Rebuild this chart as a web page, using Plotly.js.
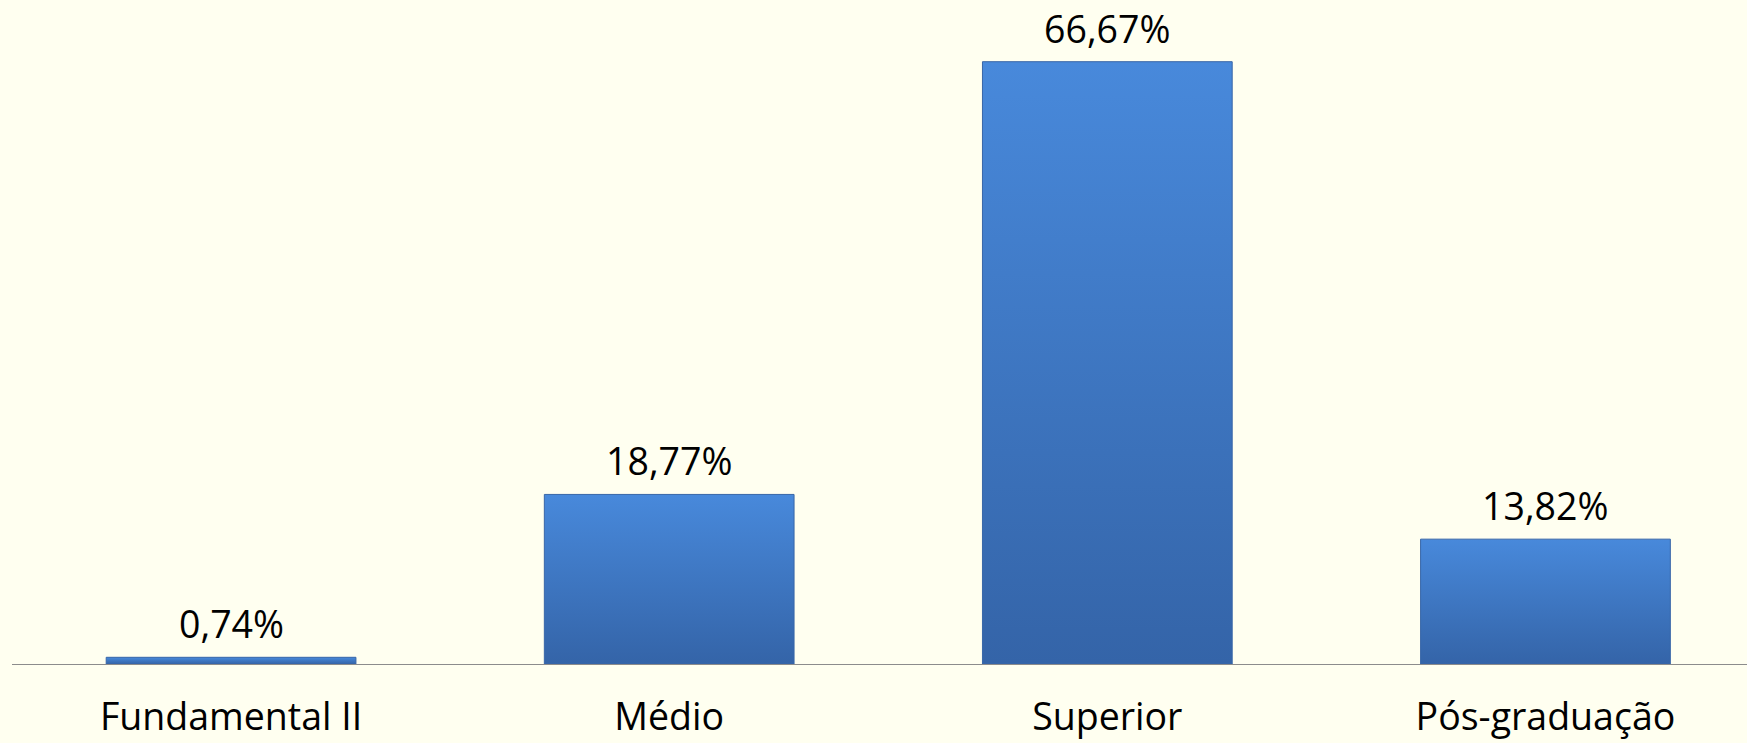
<!DOCTYPE html>
<html>
<head>
<meta charset="utf-8">
<script src="https://cdn.plot.ly/plotly-3.0.1.min.js"></script>
<style>
html,body{margin:0;padding:0;background:#FFFFF0;}
#chart{width:1747px;height:743px;}
</style>
</head>
<body>
<div id="chart"></div>
<script>
const categories = ["Fundamental II", "Médio", "Superior", "Pós-graduação"];
const values = [0.74, 18.77, 66.67, 13.82];
const valueLabels = ["0,74%", "18,77%", "66,67%", "13,82%"];

const fontFamily = "'Open Sans', 'Noto Sans', sans-serif";

const trace = {
  type: "bar",
  x: categories,
  y: values,
  marker: {color: "#3F78C4", line: {color: "#3866A8", width: 1}},
  hoverinfo: "none"
};

const annotations = categories.map((c, i) => ({
  x: c, y: values[i], text: valueLabels[i],
  xref: "x", yref: "y", showarrow: false,
  yanchor: "bottom", yshift: 6,
  font: {family: fontFamily, size: 37.5, color: "#000000"}
}));

const layout = {
  width: 1747, height: 743,
  paper_bgcolor: "#FFFFF0", plot_bgcolor: "#FFFFF0",
  margin: {l: 12, r: 0, t: 0, b: 79},
  bargap: 0.43,
  showlegend: false,
  xaxis: {
    type: "category",
    range: [-0.5, 3.46],
    showgrid: false, zeroline: false,
    showline: true, linecolor: "#8C8C8C", linewidth: 1,
    ticks: "outside", ticklen: 20, tickcolor: "rgba(0,0,0,0)",
    tickfont: {family: fontFamily, size: 37.5, color: "#000000"}
  },
  yaxis: {
    range: [0, 73.5],
    visible: false, showgrid: false, zeroline: false
  },
  annotations: annotations
};

Plotly.newPlot("chart", [trace], layout, {staticPlot: true}).then(gd => {
  const svg = gd.querySelector("svg.main-svg");
  const ns = "http://www.w3.org/2000/svg";
  let defs = svg.querySelector("defs");
  if (!defs) { defs = document.createElementNS(ns, "defs"); svg.insertBefore(defs, svg.firstChild); }
  const lg = document.createElementNS(ns, "linearGradient");
  lg.setAttribute("id", "barGrad");
  lg.setAttribute("x1", "0"); lg.setAttribute("y1", "0");
  lg.setAttribute("x2", "0"); lg.setAttribute("y2", "1");
  [["0", "#4889DB"], ["1", "#3464A8"]].forEach(([o, c]) => {
    const s = document.createElementNS(ns, "stop");
    s.setAttribute("offset", o); s.setAttribute("stop-color", c);
    lg.appendChild(s);
  });
  defs.appendChild(lg);
  gd.querySelectorAll(".bars .point path").forEach(p => {
    p.style.fill = "url(#barGrad)";
  });
});
</script>
</body>
</html>
